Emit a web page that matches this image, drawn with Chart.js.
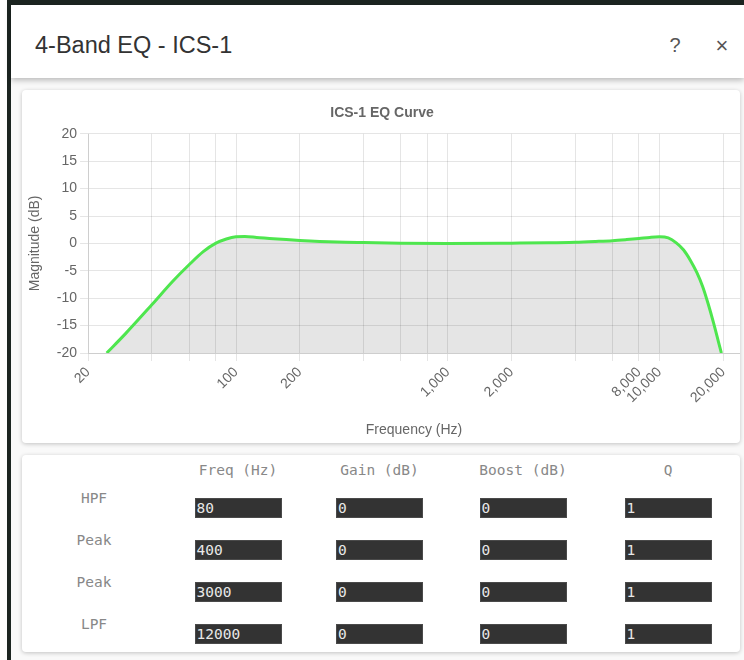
<!DOCTYPE html>
<html>
<head>
<meta charset="utf-8">
<script src="https://cdn.jsdelivr.net/npm/chart.js@4/dist/chart.umd.min.js"></script>
<style>
  html, body { margin: 0; padding: 0; }
  body { width: 744px; height: 660px; overflow: hidden; background: #ffffff; position: relative; font-family: 'Liberation Sans', Arial, sans-serif; }
  .frame { position: absolute; left: 7px; top: 0; width: 737px; height: 660px; box-sizing: border-box;
           background: #f9f9f9; border-left: 4px solid #1c2521; border-top: 5px solid #1c2521; }
  .header { position: absolute; left: 11px; top: 5px; width: 733px; height: 73px; background: #fff;
            box-shadow: 0 2px 6px rgba(0,0,0,0.28); z-index: 2; }
  .header .title { position: absolute; left: 24px; top: 4px; line-height: 73px; font-size: 23.5px; color: #333; }
  .header .help { position: absolute; left: 654px; top: 4px; line-height: 73px; font-size: 20px; color: #555; width: 20px; text-align: center; }
  .header .close { position: absolute; left: 701px; top: 4px; line-height: 73px; font-size: 22px; color: #555; width: 20px; text-align: center; }
  .card { position: absolute; left: 22px; width: 718px; background: #fff; border-radius: 4px;
          box-shadow: 0 1px 4px rgba(0,0,0,0.22); }
  #chartCard { top: 90px; height: 353px; }
  #tableCard { top: 455px; height: 197px; font-family: 'DejaVu Sans Mono', monospace; }
  .cell { position: absolute; font-size: 14.5px; color: #888; text-align: center; white-space: pre; transform: translate(-50%, -50%); }
  .inp { position: absolute; width: 87px; height: 20px; box-sizing: border-box; background: #333; border: 1px solid #4a4a4a;
         color: #e8e8e8; font-size: 14.5px; line-height: 18px; padding-left: 1px; white-space: pre; }
</style>
</head>
<body>
<div class="frame"></div>
<div class="header">
  <div class="title">4-Band EQ - ICS-1</div>
  <div class="help">?</div>
  <div class="close">×</div>
</div>
<div class="card" id="chartCard"><canvas id="eq" width="718" height="353"></canvas></div>
<div class="card" id="tableCard"></div>
<script>
// ---- Chart data ----
const frequencies = [24.5, 30, 40, 50, 60, 70, 80, 90, 100, 110, 125, 150, 200, 300, 400, 600, 1000, 2000, 3000, 4000, 5000, 6000, 7000, 8000, 9000, 10000, 11000, 12000, 13000, 14000, 15000, 16000, 17000, 18000, 19000, 19600];
const magnitudes  = [-20, -16.5, -11.2, -7.0, -3.9, -1.5, 0, 0.8, 1.2, 1.25, 1.1, 0.85, 0.55, 0.25, 0.15, 0.05, 0, 0.05, 0.1, 0.2, 0.35, 0.5, 0.7, 0.9, 1.1, 1.2, 1.0, 0.1, -1.2, -3.1, -5.3, -7.9, -11.1, -14.5, -18.0, -20];
const gridFrequencies = [20, 40, 60, 80, 100, 200, 400, 600, 800, 1000, 2000, 4000, 6000, 8000, 10000, 20000];
const labeledFrequencies = [20, 100, 200, 1000, 2000, 8000, 10000, 20000];
const yTickValues = [-20, -15, -10, -5, 0, 5, 10, 15, 20];

// ---- Table data ----
const bandNames = ['HPF', 'Peak', 'Peak', 'LPF'];
const bandFreqs = [80, 400, 3000, 12000];
const bandGains = [0, 0, 0, 0];
const bandBoosts = [0, 0, 0, 0];
const bandQs = [1, 1, 1, 1];
const columnHeaders = ['Freq (Hz)', 'Gain (dB)', 'Boost (dB)', 'Q'];

Chart.defaults.font.family = "'Liberation Sans', Arial, sans-serif";
Chart.defaults.color = '#666';

new Chart(document.getElementById('eq'), {
  type: 'line',
  data: {
    datasets: [{
      data: frequencies.map((f, i) => ({ x: f, y: magnitudes[i] })),
      borderColor: '#4ee64e',
      borderWidth: 3,
      backgroundColor: 'rgba(0,0,0,0.1)',
      fill: 'start',
      pointRadius: 0,
      cubicInterpolationMode: 'monotone'
    }]
  },
  options: {
    responsive: false,
    animation: false,
    layout: { padding: { left: 2, right: 0, top: 0, bottom: 0 } },
    plugins: {
      legend: { display: false },
      tooltip: { enabled: false },
      title: { display: true, text: 'ICS-1 EQ Curve', color: '#666', font: { size: 14, weight: 'bold' }, padding: { top: 15, bottom: 12 } }
    },
    scales: {
      x: {
        type: 'logarithmic',
        min: 20,
        max: 24000,
        afterBuildTicks: (scale) => { scale.ticks = gridFrequencies.map(v => ({ value: v })); },
        ticks: {
          autoSkip: false, minRotation: 45, maxRotation: 45, padding: 3,
          color: '#666', font: { size: 14 },
          callback: (v) => labeledFrequencies.includes(v) ? v.toLocaleString('en-US') : ''
        },
        grid: { color: 'rgba(0,0,0,0.1)', tickLength: 8 },
        border: { color: 'rgba(0,0,0,0.1)' },
        title: { display: true, text: 'Frequency (Hz)', color: '#666', font: { size: 14 }, padding: { top: 13, bottom: 4 } }
      },
      y: {
        min: -20,
        max: 20,
        afterBuildTicks: (scale) => { scale.ticks = yTickValues.map(v => ({ value: v })); },
        ticks: { padding: 3, color: '#666', font: { size: 14 } },
        grid: { color: 'rgba(0,0,0,0.1)', tickLength: 8 },
        border: { color: 'rgba(0,0,0,0.1)' },
        title: { display: true, text: 'Magnitude (dB)', color: '#666', font: { size: 14 }, padding: { top: 3, bottom: 10 } }
      }
    }
  }
});

// ---- Build the parameter table ----
const card = document.getElementById('tableCard');
const colCenters = [216, 357.5, 501, 646];
const labelCenterX = 72;
const headerY = 14.5;
const rowTop0 = 43, rowStep = 42;
function addCell(text, x, y) {
  const d = document.createElement('div');
  d.className = 'cell'; d.textContent = text;
  d.style.left = x + 'px'; d.style.top = y + 'px';
  card.appendChild(d);
}
function addInput(text, cx, top) {
  const d = document.createElement('div');
  d.className = 'inp'; d.textContent = String(text);
  d.style.left = (cx - 43.5) + 'px'; d.style.top = top + 'px';
  card.appendChild(d);
}
columnHeaders.forEach((h, c) => addCell(h, colCenters[c], headerY));
const columns = [bandFreqs, bandGains, bandBoosts, bandQs];
bandNames.forEach((name, r) => {
  const top = rowTop0 + r * rowStep;
  addCell(name, labelCenterX, top);
  columns.forEach((col, c) => addInput(col[r], colCenters[c], top));
});
</script>
</body>
</html>
